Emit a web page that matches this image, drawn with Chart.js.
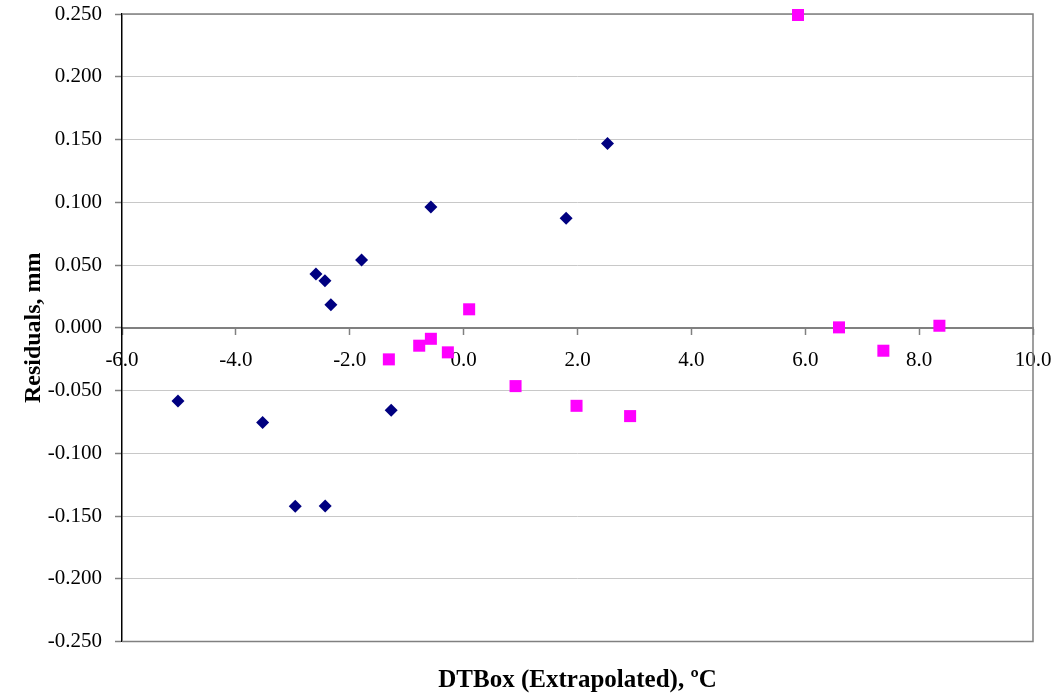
<!DOCTYPE html>
<html>
<head>
<meta charset="utf-8">
<script src="https://cdn.jsdelivr.net/npm/chart.js@4/dist/chart.umd.min.js"></script>
<style>
  html, body { margin: 0; padding: 0; background: #ffffff; }
  #wrap { width: 1058px; height: 700px; }
</style>
</head>
<body>
<div id="wrap"><canvas id="chart" width="1058" height="700"></canvas></div>
<script>
// Residuals of the first series (navy diamonds)
const seriesAX = [-5.017, -3.530, -2.957, -2.431, -2.594, -2.436, -2.331, -1.792, -1.272, -0.575, 1.800, 2.527];
const seriesAY = [-0.0584, -0.0754, -0.1423, -0.1421, 0.0428, 0.0375, 0.0183, 0.0539, -0.0658, 0.0962, 0.0872, 0.1469];

// Residuals of the second series (magenta squares)
const seriesBX = [-1.313, -0.780, -0.575, -0.277, 0.097, 0.912, 1.983, 2.924, 5.873, 6.593, 7.372, 8.356];
const seriesBY = [-0.0252, -0.0143, -0.0088, -0.0196, 0.0147, -0.0465, -0.0622, -0.0704, 0.2492, 0.0003, -0.0183, 0.0016];

// Axis ranges and steps
const xTicks = { min: -6, max: 10, step: 2 };
const yTicks = { min: -0.25, max: 0.25, step: 0.05 };

const xTitle = 'DTBox (Extrapolated), ºC';
const yTitle = 'Residuals, mm';

const toPoints = (xs, ys) => xs.map((x, i) => ({ x: x, y: ys[i] }));

const serif = "'Liberation Serif', 'Times New Roman', serif";

// Gray frame on the top, right and bottom of the plot area
const plotFrame = {
  id: 'plotFrame',
  beforeDatasetsDraw(chart) {
    const { ctx, chartArea: a } = chart;
    ctx.save();
    ctx.strokeStyle = '#808080';
    ctx.lineWidth = 1.5;
    ctx.beginPath();
    ctx.moveTo(a.left, a.top);
    ctx.lineTo(a.right, a.top);
    ctx.lineTo(a.right, a.bottom);
    ctx.lineTo(a.left, a.bottom);
    ctx.stroke();
    ctx.restore();
  }
};

new Chart(document.getElementById('chart'), {
  type: 'scatter',
  data: {
    datasets: [
      {
        label: 'Series 1',
        data: toPoints(seriesAX, seriesAY),
        pointStyle: 'rectRot',
        pointRadius: 6.5,
        backgroundColor: '#000080',
        borderColor: '#000080',
        borderWidth: 0,
        clip: false
      },
      {
        label: 'Series 2',
        data: toPoints(seriesBX, seriesBY),
        pointStyle: 'rect',
        pointRadius: 8.5,
        backgroundColor: '#FF00FF',
        borderColor: '#FF00FF',
        borderWidth: 0,
        clip: false
      }
    ]
  },
  options: {
    responsive: false,
    animation: false,
    events: [],
    layout: { padding: { left: 0, right: 25, top: 14, bottom: 4 } },
    plugins: {
      legend: { display: false },
      tooltip: { enabled: false },
      title: {
        display: true,
        text: xTitle,
        position: 'bottom',
        fullSize: false,
        color: '#000000',
        font: { family: serif, size: 25, weight: 'bold' },
        padding: { top: 24.5, bottom: 0 }
      }
    },
    scales: {
      x: {
        type: 'linear',
        position: { y: 0 },
        min: xTicks.min,
        max: xTicks.max,
        afterFit(scale) { scale.paddingLeft = 0; scale.paddingRight = 0; },
        ticks: {
          stepSize: xTicks.step,
          color: '#000000',
          font: { family: serif, size: 21 },
          padding: 14,
          maxRotation: 0,
          callback: (v) => Number(v).toFixed(1)
        },
        grid: {
          drawOnChartArea: false,
          drawTicks: true,
          tickLength: 6,
          tickColor: '#808080',
          tickWidth: 1.5
        },
        border: { display: true, color: '#808080', width: 2 }
      },
      y: {
        type: 'linear',
        position: 'left',
        min: yTicks.min,
        max: yTicks.max,
        afterFit(scale) { scale.width = 122; scale.paddingTop = 0; scale.paddingBottom = 0; },
        ticks: {
          stepSize: yTicks.step,
          color: '#000000',
          font: { family: serif, size: 21 },
          padding: 13,
          callback: (v) => Number(v).toFixed(3)
        },
        grid: {
          color: '#c8c8c8',
          lineWidth: 1,
          drawTicks: true,
          tickLength: 7,
          tickColor: '#808080',
          tickWidth: 1.5
        },
        border: { display: true, color: '#000000', width: 1.5 },
        title: {
          display: true,
          text: yTitle,
          color: '#000000',
          font: { family: serif, size: 24, weight: 'bold' },
          padding: { top: 19.5, bottom: 0 }
        }
      }
    }
  },
  plugins: [plotFrame]
});
</script>
</body>
</html>
